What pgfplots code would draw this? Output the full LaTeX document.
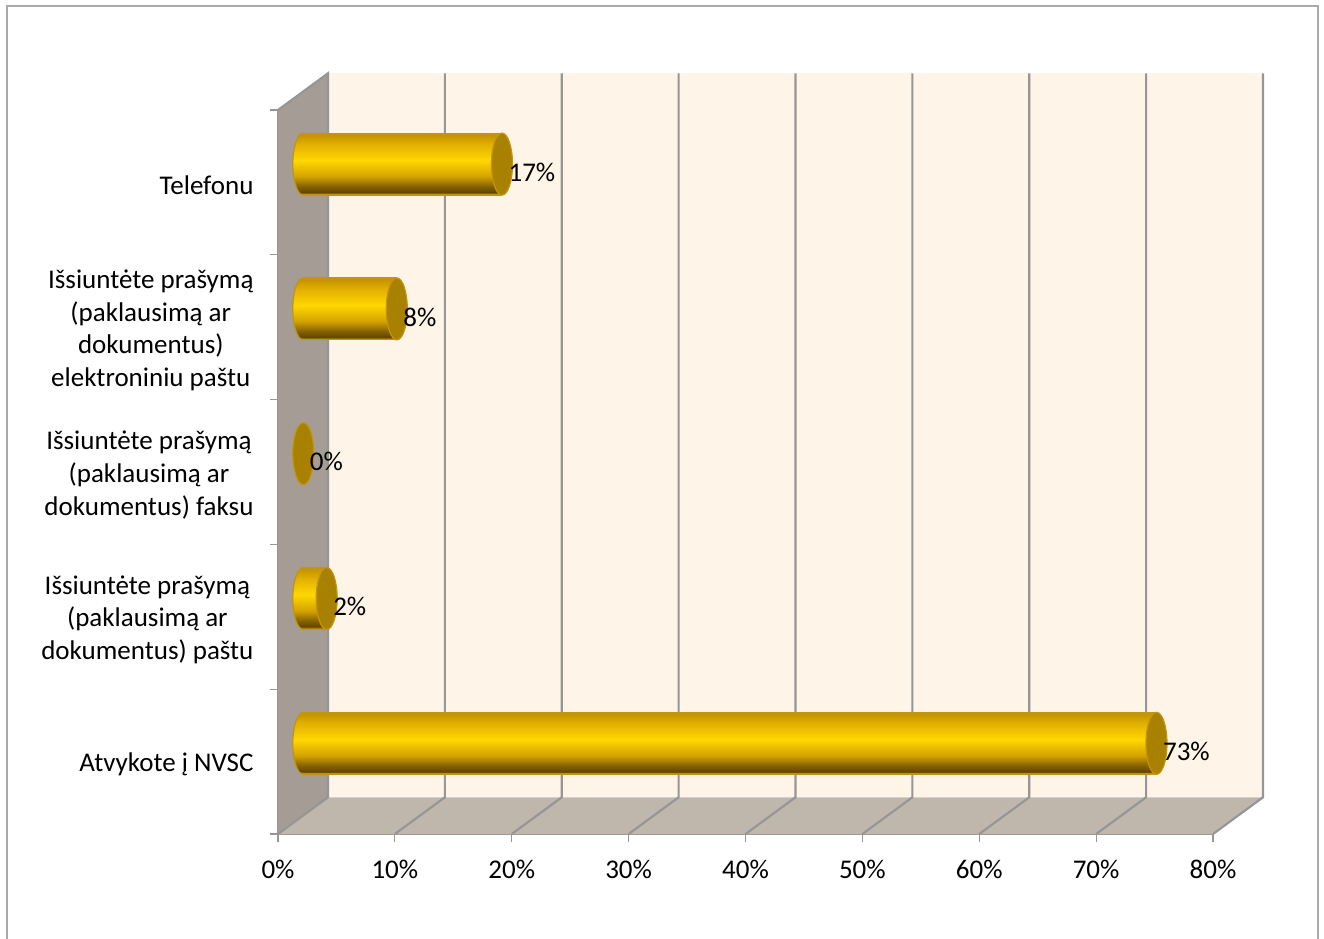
\documentclass[border=0pt]{standalone}
\usepackage{pgfplots}
\pgfplotsset{compat=1.18}
\usepackage{fontspec}
\setmainfont{Carlito}

\definecolor{gbRim}{RGB}{196,148,14}
\definecolor{gbLow}{RGB}{98,70,0}
\definecolor{gbDark}{RGB}{132,98,0}
\definecolor{gbMid}{RGB}{212,162,0}
\definecolor{gbBright}{RGB}{255,215,0}
\definecolor{gbUp}{RGB}{226,176,0}
\definecolor{gbTop}{RGB}{198,150,0}
\definecolor{capFace}{RGB}{169,129,0}
\definecolor{wallBack}{RGB}{254,244,231}
\definecolor{wallSide}{RGB}{164,156,149}
\definecolor{wallFloor}{RGB}{192,183,172}
\definecolor{gridGrey}{RGB}{150,150,150}
\definecolor{frameGrey}{RGB}{170,170,170}

% Cylinder surface: outline tone at both rims, bright band a little above the middle.
% The path's box covers 25bp..75bp of the shading.
\pgfdeclareverticalshading{goldbar}{100bp}{
  color(0bp)=(gbRim);
  color(25bp)=(gbRim);
  color(26bp)=(gbRim);
  color(27bp)=(gbLow);
  color(32bp)=(gbDark);
  color(40bp)=(gbMid);
  color(53bp)=(gbBright);
  color(66bp)=(gbUp);
  color(73bp)=(gbTop);
  color(74bp)=(gbRim);
  color(75bp)=(gbRim);
  color(100bp)=(gbRim)}

% Ends of the cylinders: the rounded back half and the flat front face
\pgfdeclareplotmark{capshaded}{%
  \pgfpathmoveto{\pgfqpoint{0pt}{31pt}}%
  \pgfpatharc{90}{270}{10.5pt and 31pt}%
  \pgfshadepath{goldbar}{0}%
  \pgfusepathqstroke}
\pgfdeclareplotmark{capflat}{%
  \pgfpathellipse{\pgfpointorigin}{\pgfqpoint{10.5pt}{0pt}}{\pgfqpoint{0pt}{31pt}}%
  \pgfusepathqfillstroke}

\pgfplotsset{
  chartbox/.style={
    anchor=south west,
    scale only axis,
    width=935pt, height=724pt,
    xmin=0, xmax=80, ymin=0, ymax=5,
    clip=false,
  },
  cylbody/.style={xbar, bar width=62pt, draw=none, shade, shading=goldbar, forget plot},
}

\begin{document}
\begin{tikzpicture}[x=1pt,y=1pt]
\useasboundingbox (0,0) rectangle (1324,938);
\draw[frameGrey, line width=2pt] (6.5,-2) -- (6.5,931.5) -- (1317.5,931.5) -- (1317.5,-2);

% Walls, floor, grid and the value and category axes
\begin{axis}[
  chartbox,
  at={(278pt,104pt)},
  axis x line*=bottom,
  axis y line*=left,
  axis line style={gridGrey, line width=2.2pt},
  xtick={0,10,...,80},
  xticklabel={\pgfmathprintnumber{\tick}\%},
  /pgf/number format/assume math mode=true,
  ytick={0,1,2,3,4,5},
  yticklabels={},
  extra y ticks={0.5,1.5,2.5,3.5,4.5},
  extra y tick labels={
    {Atvykote į NVSC},
    {Išsiuntėte prašymą\\(paklausimą ar\\dokumentus) paštu},
    {Išsiuntėte prašymą\\(paklausimą ar\\dokumentus) faksu},
    {Išsiuntėte prašymą\\(paklausimą ar\\dokumentus)\\elektroniniu paštu},
    {Telefonu}},
  extra y tick style={major tick length=0pt, tick style={draw=none}},
  major tick length=8pt,
  tick align=outside,
  tick style={gridGrey, line width=1.2pt},
  xticklabel style={font=\fontsize{27}{32}\selectfont, yshift=-15pt},
  yticklabel style={font=\fontsize{27}{32.7}\selectfont, align=center, xshift=-21pt, yshift=-3pt},
]
  \addplot[draw=none, fill=wallBack] coordinates {(4.278,0.2535) (84.278,0.2535) (84.278,5.2535) (4.278,5.2535)} --cycle;
  \addplot[draw=none, fill=wallSide] coordinates {(0,0) (4.278,0.2535) (4.278,5.2535) (0,5)} --cycle;
  \addplot[draw=none, fill=wallFloor] coordinates {(0,0) (80,0) (84.278,0.2535) (4.278,0.2535)} --cycle;
  \addplot[gridGrey, line width=2.2pt, unbounded coords=jump] coordinates {
    (0,5) (4.278,5.2535) (4.278,0.2535) (0,0) (nan,nan)
    (10,0) (14.278,0.2535) (14.278,5.2535) (nan,nan)
    (20,0) (24.278,0.2535) (24.278,5.2535) (nan,nan)
    (30,0) (34.278,0.2535) (34.278,5.2535) (nan,nan)
    (40,0) (44.278,0.2535) (44.278,5.2535) (nan,nan)
    (50,0) (54.278,0.2535) (54.278,5.2535) (nan,nan)
    (60,0) (64.278,0.2535) (64.278,5.2535) (nan,nan)
    (70,0) (74.278,0.2535) (74.278,5.2535) (nan,nan)
    (80,0) (84.278,0.2535) (84.278,5.2535)};
\end{axis}

% Cylinders, set half the depth into the box
\begin{axis}[
  chartbox,
  at={(303.3pt,122.3pt)},
  hide axis,
]
  % left ends
  \addplot[only marks, mark=capshaded, mark options={draw=gbRim, line width=1.2pt}]
    coordinates {(0,0.5) (0,1.5) (0,3.5) (0,4.5)};
  % cylinder bodies, one plot each so that each takes the full shading; a zero share has none
  \addplot[cylbody] coordinates {(73,0.5)};
  \addplot[cylbody] coordinates {(2,1.5)};
  \addplot[cylbody] coordinates {(8,3.5)};
  \addplot[cylbody] coordinates {(17,4.5)};
  % right ends and value labels
  \addplot[only marks, mark=capflat,
    mark options={draw=gbRim, fill=capFace, line width=1.2pt},
    point meta=x,
    nodes near coords={\pgfmathprintnumber{\pgfplotspointmeta}\%},
    every node near coord/.append style={
      anchor=west, inner sep=0pt, xshift=6pt, yshift=-8pt,
      text=black, font=\fontsize{27}{32}\selectfont,
      /pgf/number format/assume math mode=true},
  ] coordinates {(73,0.5) (2,1.5) (0,2.5) (8,3.5) (17,4.5)};
\end{axis}
\end{tikzpicture}
\end{document}
